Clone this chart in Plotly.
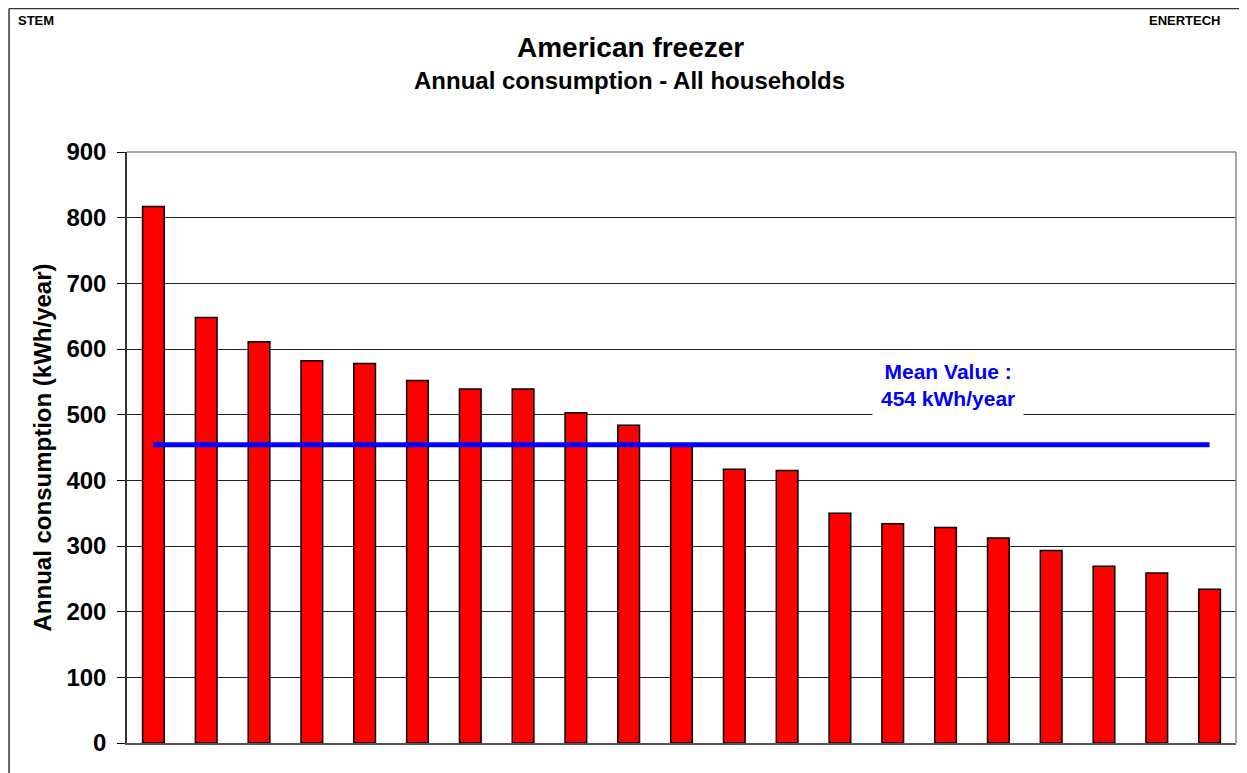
import plotly.graph_objects as go

households = [str(i) for i in range(1, 22)]
consumption = [817, 648, 611, 582, 578, 552, 539, 539, 503, 484, 453,
               417, 415, 350, 334, 328, 312, 293, 269, 259, 234]
mean_value = 454
y_ticks = [0, 100, 200, 300, 400, 500, 600, 700, 800, 900]

FONT = "Arial, Liberation Sans, sans-serif"

# page is offset by the 8px default body margin
OFF = 8
PAGE_W, PAGE_H = 1247, 773
W, H = PAGE_W - OFF, PAGE_H - OFF
# plot area in page pixels
L, R, T, B = 126.5, 1236, 152, 743

def px(x):
    return (x - L) / (R - L)

def py(y):
    return (B - y) / (B - T)

fig = go.Figure()
fig.add_trace(go.Bar(
    x=households, y=consumption, width=0.41,
    marker=dict(color="#ff0000", line=dict(color="#000000", width=1.5)),
    showlegend=False, hoverinfo="y",
))
fig.add_trace(go.Scatter(
    x=households, y=[mean_value] * len(households), mode="lines",
    line=dict(color="#0000ff", width=5), showlegend=False, hoverinfo="y",
))

fig.update_layout(
    width=W, height=H,
    margin=dict(l=L - OFF, r=PAGE_W - R, t=T - OFF, b=PAGE_H - B, pad=0),
    paper_bgcolor="white", plot_bgcolor="white",
    font=dict(family=FONT, color="black"),
    xaxis=dict(showticklabels=False, ticks="", showgrid=False,
               showline=True, linecolor="#555555", linewidth=1.5,
               range=[-0.5, 20.5], zeroline=False),
    yaxis=dict(range=[0, 900], tickvals=y_ticks, ticks="outside", ticklen=8,
               tickcolor="black", showline=True, linecolor="#333333", linewidth=1.5,
               showgrid=True, gridcolor="#222222", gridwidth=1, zeroline=False,
               ticklabelstandoff=6,
               tickfont=dict(size=24, family=FONT, color="black", weight="bold"),
               title=dict(text="<b>Annual consumption (kWh/year)</b>",
                          font=dict(size=24, family=FONT), standoff=8)),
    shapes=[
        dict(type="line", xref="paper", yref="paper",
             x0=px(8.5), x1=px(1247), y0=py(8.5), y1=py(8.5),
             line=dict(color="#333333", width=1.5)),
        dict(type="line", xref="paper", yref="paper",
             x0=px(8.5), x1=px(8.5), y0=py(8.5), y1=py(773),
             line=dict(color="#333333", width=1.5)),
        dict(type="line", xref="paper", yref="paper", x0=1, x1=1, y0=0, y1=1,
             line=dict(color="#888888", width=1.5)),
        dict(type="line", xref="paper", yref="paper", x0=0, x1=1, y0=1, y1=1,
             line=dict(color="#888888", width=1.5)),
    ],
    annotations=[
        dict(text="<b>American freezer</b>", xref="paper", yref="paper",
             x=px(630), y=py(47), showarrow=False, font=dict(size=28, family=FONT),
             xanchor="center", yanchor="middle"),
        dict(text="<b>Annual consumption - All households</b>", xref="paper", yref="paper",
             x=px(629), y=py(80), showarrow=False, font=dict(size=24, family=FONT),
             xanchor="center", yanchor="middle"),
        dict(text="<b>STEM</b>", xref="paper", yref="paper",
             x=px(15), y=py(21), showarrow=False, font=dict(size=13, family=FONT),
             xanchor="left", yanchor="middle"),
        dict(text="<b>ENERTECH</b>", xref="paper", yref="paper",
             x=px(1223), y=py(21), showarrow=False, font=dict(size=13, family=FONT),
             xanchor="right", yanchor="middle"),
        dict(text="<b>Mean Value :<br>454 kWh/year</b>", xref="paper", yref="paper",
             x=px(948), y=py(385), showarrow=False,
             font=dict(size=21, family=FONT, color="#0000ff"),
             bgcolor="white", borderpad=8, xanchor="center", yanchor="middle"),
    ],
)

fig.write_html("out.html")
